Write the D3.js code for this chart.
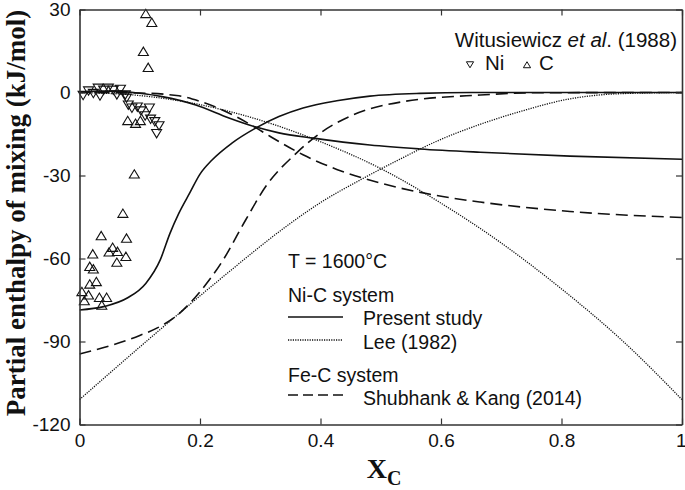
<!DOCTYPE html>
<html><head><meta charset="utf-8">
<script src="https://cdn.jsdelivr.net/npm/d3@7"></script>
<style>body{margin:0;background:#fff}svg{display:block}</style>
</head><body>
<script>
// ---- data ----
const presentC_x = [0, 0.04, 0.08, 0.11, 0.134, 0.15, 0.165, 0.183, 0.2, 0.22, 0.253, 0.293, 0.331, 0.371, 0.427, 0.482, 0.565, 0.65, 0.8, 1.0];
const presentC_y = [-78.6, -77.4, -74.2, -69, -60.5, -51, -43.6, -36.3, -29.5, -24.4, -18.3, -12.8, -8.7, -5.6, -3.0, -1.3, -0.3, 0, 0, 0];
const presentNi_x = [0, 0.03, 0.06, 0.1, 0.137, 0.193, 0.248, 0.293, 0.331, 0.388, 0.482, 0.565, 0.665, 0.814, 1.0];
const presentNi_y = [0, 0.5, 0.5, -0.3, -1.5, -4.5, -9.2, -12.5, -14.6, -16.5, -19, -20.4, -21.6, -23, -24.1];
const leeNi_x = [0, 0.1, 0.2, 0.3, 0.4, 0.5, 0.6, 0.7, 0.8, 0.9, 1.0];
const leeNi_y = [0, -1.1, -4.4, -10, -17.8, -27.5, -40, -54.4, -71, -89.5, -111];
const leeC_x = [0, 0.1, 0.2, 0.25, 0.3, 0.35, 0.4, 0.466, 0.53, 0.593, 0.665, 0.731, 0.814, 0.9, 1.0];
const leeC_y = [-111, -92, -73.5, -64.5, -55.6, -47.3, -39.8, -31.6, -24.3, -17.6, -11.5, -6.9, -2.3, -0.4, 0];
const shubC_x = [0, 0.054, 0.1, 0.13, 0.165, 0.2, 0.237, 0.276, 0.309, 0.36, 0.4, 0.454, 0.537, 0.665, 0.76, 1.0];
const shubC_y = [-94.5, -91.3, -87.8, -85, -80, -72, -61, -46, -34, -21.9, -14.6, -8.1, -3.3, -0.9, -0.1, 0];
const shubFe_x = [0, 0.1, 0.165, 0.2, 0.237, 0.287, 0.316, 0.371, 0.427, 0.499, 0.582, 0.665, 0.814, 1.0];
const shubFe_y = [0, -0.2, -1.2, -3.2, -6.3, -12, -15.8, -22.5, -27.8, -32.7, -36.8, -39.6, -43, -45.2];
// Witusiewicz et al. (1988) experimental points
const expNi_x = [0.006, 0.015, 0.023, 0.031, 0.034, 0.04, 0.048, 0.056, 0.062, 0.068, 0.076, 0.078, 0.081, 0.087, 0.096, 0.102, 0.116, 0.109, 0.118, 0.125, 0.132, 0.128];
const expNi_y = [-0.7, 0.9, 0, 1.9, -0.9, 1.2, 1.9, 1.2, -0.5, 1.5, -0.5, -1.7, -4.2, -5.3, -4.9, -6.3, -5.3, -8.1, -9.3, -10.2, -11.7, -14.5];
const expC_x = [0.110, 0.120, 0.106, 0.114, 0.080, 0.093, 0.101, 0.091, 0.072, 0.036, 0.078, 0.055, 0.049, 0.063, 0.022, 0.077, 0.062, 0.017, 0.023, 0.028, 0.017, 0.004, 0.015, 0.008, 0.033, 0.045, 0.037];
const expC_y = [28.2, 25.0, 14.5, 8.7, -10.5, -11.5, -10.5, -29.8, -44.0, -52.1, -53.0, -56.3, -58.0, -57.8, -58.7, -59.6, -61.7, -63.2, -64.1, -68.7, -69.6, -72.3, -73.5, -75.6, -74.4, -74.4, -77.2];
const xTicks = [0, 0.2, 0.4, 0.6, 0.8, 1];
const yTicks = [-120, -90, -60, -30, 0, 30];

// ---- layout ----
const W = 685, H = 490;
const L = 79.5, R = 682, T = 9.5, B = 424.5;
const x = d3.scaleLinear().domain([0, 1]).range([L, R]);
const y = d3.scaleLinear().domain([-120, 30]).range([B, T]);
const svg = d3.select("body").append("svg").attr("width", W).attr("height", H);
const FONT = "Liberation Sans, Arial, sans-serif";
const ink = "#111";

svg.append("clipPath").attr("id", "pc").append("rect")
  .attr("x", L).attr("y", T).attr("width", R - L).attr("height", B - T);

const line = d3.line().x(d => x(d[0])).y(d => y(d[1])).curve(d3.curveMonotoneX);
const zip = (a, b) => a.map((v, i) => [v, b[i]]);
const plot = svg.append("g").attr("clip-path", "url(#pc)");
const styles = {
  solid: {w: 1.6, dash: null},
  dotted: {w: 1.3, dash: "1.2,1.2"},
  dashed: {w: 1.6, dash: "12,6"}
};
const curves = [
  [presentC_x, presentC_y, "solid"], [presentNi_x, presentNi_y, "solid"],
  [leeC_x, leeC_y, "dotted"], [leeNi_x, leeNi_y, "dotted"],
  [shubC_x, shubC_y, "dashed"], [shubFe_x, shubFe_y, "dashed"]
];
curves.forEach(([xs, ys, s]) => {
  plot.append("path").attr("d", line(zip(xs, ys)))
    .attr("fill", "none").attr("stroke", ink)
    .attr("stroke-width", styles[s].w)
    .attr("stroke-dasharray", styles[s].dash);
});

const triUp = (s) => `M${-s},${0.62*s}L${s},${0.62*s}L0,${-1.05*s}Z`;
const triDown = (s) => `M${-s},${-0.62*s}L${s},${-0.62*s}L0,${1.05*s}Z`;
svg.append("g").selectAll("path").data(zip(expNi_x, expNi_y)).join("path")
  .attr("d", triDown(5)).attr("transform", d => `translate(${x(d[0])},${y(d[1])})`)
  .attr("fill", "none").attr("stroke", ink).attr("stroke-width", 1.1);
svg.append("g").selectAll("path").data(zip(expC_x, expC_y)).join("path")
  .attr("d", triUp(5)).attr("transform", d => `translate(${x(d[0])},${y(d[1])})`)
  .attr("fill", "none").attr("stroke", ink).attr("stroke-width", 1.1);

// ---- axes ----
const axStroke = "#333";
const fmt = d => String(d);
const gB = svg.append("g").attr("transform", `translate(0,${B})`)
  .call(d3.axisBottom(x).tickValues(xTicks).tickFormat(fmt).tickSizeInner(-6).tickSizeOuter(0).tickPadding(9));
const gT = svg.append("g").attr("transform", `translate(0,${T})`)
  .call(d3.axisTop(x).tickValues(xTicks).tickFormat("").tickSizeInner(-6).tickSizeOuter(0));
const gL = svg.append("g").attr("transform", `translate(${L},0)`)
  .call(d3.axisLeft(y).tickValues(yTicks).tickFormat(fmt).tickSizeInner(-6).tickSizeOuter(0).tickPadding(9));
const gR = svg.append("g").attr("transform", `translate(${R},0)`)
  .call(d3.axisRight(y).tickValues(yTicks).tickFormat("").tickSizeInner(-6).tickSizeOuter(0));
[gB, gT, gL, gR].forEach(g => {
  g.select(".domain").attr("stroke", axStroke).attr("stroke-width", 1.6);
  g.selectAll(".tick line").attr("stroke", axStroke).attr("stroke-width", 1.2);
  g.selectAll("text").attr("font-family", FONT).attr("font-size", 19).attr("fill", ink);
});
gB.selectAll(".tick text").filter(d => d === 1).attr("text-anchor", "end").attr("dx", 4);

// axis titles
svg.append("text").attr("transform", `translate(25,${(T + B) / 2 - 4}) rotate(-90)`)
  .attr("text-anchor", "middle").attr("font-family", "Liberation Serif, Times New Roman, serif")
  .attr("font-weight", "bold").attr("font-size", 27).attr("fill", ink)
  .text("Partial enthalpy of mixing (kJ/mol)");
const xt = svg.append("text").attr("x", 384).attr("y", 478).attr("text-anchor", "middle")
  .attr("font-family", "Liberation Serif, Times New Roman, serif").attr("font-weight", "bold")
  .attr("font-size", 28).attr("fill", ink);
xt.append("tspan").text("X");
xt.append("tspan").attr("font-size", 20).attr("dy", 7).text("C");

// ---- legends ----
const lg = svg.append("g").attr("font-family", FONT).attr("font-size", 19.5).attr("fill", ink);
lg.append("text").attr("x", 288).attr("y", 268).text("T = 1600°C");
lg.append("text").attr("x", 288).attr("y", 301.5).text("Ni-C system");
lg.append("text").attr("x", 288).attr("y", 381.5).text("Fe-C system");
const items = [["Present study", "solid", 317, 325], ["Lee (1982)", "dotted", 340, 349], ["Shubhank & Kang (2014)", "dashed", 395, 405]];
items.forEach(([t, s, ly, ty]) => {
  lg.append("line").attr("x1", 288).attr("x2", 343).attr("y1", ly).attr("y2", ly)
    .attr("stroke", ink).attr("stroke-width", styles[s].w)
    .attr("stroke-dasharray", s === "dashed" ? "10,5" : styles[s].dash);
  lg.append("text").attr("x", 363).attr("y", ty).text(t);
});
const wg = svg.append("g").attr("font-family", FONT).attr("font-size", 20.5).attr("fill", ink);
const wt = wg.append("text").attr("x", 677).attr("y", 46.5).attr("text-anchor", "end");
wt.append("tspan").text("Witusiewicz ");
wt.append("tspan").attr("font-style", "italic").text("et al");
wt.append("tspan").text(". (1988)");
wg.append("path").attr("d", triDown(3.6)).attr("transform", "translate(470,64)")
  .attr("fill", "none").attr("stroke", ink).attr("stroke-width", 1);
wg.append("text").attr("x", 485).attr("y", 70).text("Ni");
wg.append("path").attr("d", triUp(3.6)).attr("transform", "translate(527,65.5)")
  .attr("fill", "none").attr("stroke", ink).attr("stroke-width", 1);
wg.append("text").attr("x", 539).attr("y", 70).text("C");
</script>
</body></html>
